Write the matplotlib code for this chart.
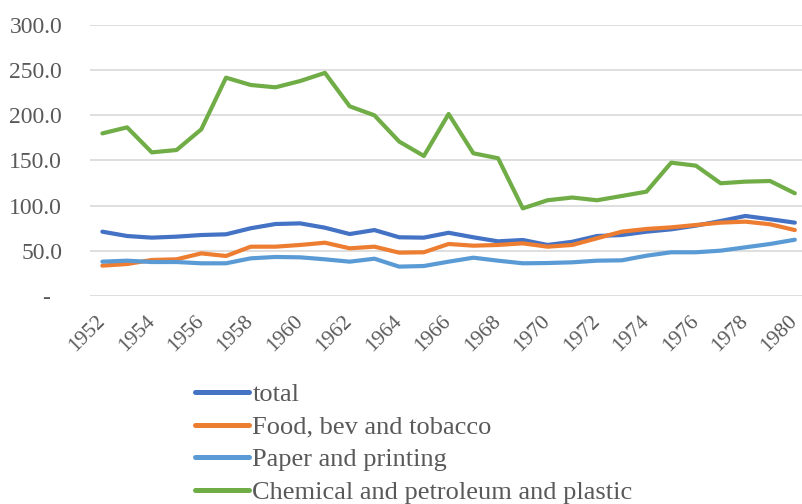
import matplotlib
matplotlib.use("Agg")
import matplotlib.pyplot as plt
from matplotlib.ticker import FuncFormatter

years = list(range(1952, 1981))

total = [71.2, 66.4, 64.6, 65.7, 67.5, 68.3, 75.0, 79.7, 80.4, 75.6, 68.6, 73.0, 65.0,
         64.6, 70.0, 65.0, 60.5, 62.0, 56.5, 60.0, 66.4, 67.5, 71.2, 73.8, 77.9, 83.0,
         88.6, 85.0, 81.2]
food = [33.6, 35.4, 39.9, 40.6, 47.2, 44.3, 54.6, 54.6, 56.5, 59.0, 52.8, 54.6, 48.0,
        48.4, 57.6, 55.7, 56.5, 58.3, 54.6, 56.5, 63.9, 71.2, 74.2, 76.0, 78.6, 81.2,
        82.3, 79.4, 73.0]
paper = [38.0, 39.1, 37.6, 37.6, 36.2, 36.2, 41.7, 43.2, 42.8, 40.6, 38.0, 41.3, 32.5,
         33.2, 38.0, 42.4, 39.1, 36.2, 36.5, 37.3, 39.1, 39.5, 44.6, 48.4, 48.4, 50.2,
         53.9, 57.6, 62.3]
chem = [180.0, 186.7, 159.0, 161.6, 184.5, 241.7, 233.6, 231.0, 238.0, 247.0, 210.0,
        200.0, 171.0, 155.0, 201.5, 158.0, 152.5, 97.0, 106.0, 109.0, 106.0, 110.7,
        115.5, 147.6, 144.3, 124.8, 126.6, 127.3, 113.7]

labels = ["total", "Food, bev and tobacco", "Paper and printing",
          "Chemical and petroleum and plastic"]
colors = ["#4472C4", "#ED7D31", "#5B9BD5", "#70AD47"]

plt.rcParams['font.family'] = ['Liberation Serif', 'DejaVu Serif']
txt = "#595959"

fig = plt.figure(figsize=(8.03, 5.04), dpi=100)
ax = fig.add_axes([90 / 803, 208 / 504, 713 / 803, 271 / 504])

for series, lab, c in zip([total, food, paper, chem], labels, colors):
    ax.plot(years, series, color=c, lw=3, label=lab, solid_capstyle='round',
            solid_joinstyle='round')

ax.set_xlim(1951.5, 1980.33)
ax.set_ylim(0, 300)
ax.set_yticks(range(0, 301, 50))
# excel accounting style: zero shown as a dash
ax.yaxis.set_major_formatter(FuncFormatter(lambda v, p: "-  " if v == 0 else "%.1f" % v))
ax.set_xticks(range(1952, 1981, 2))
ax.set_xticklabels([str(y) for y in range(1952, 1981, 2)], rotation=45, ha='right',
                   va='center', rotation_mode='anchor', fontsize=15.5)
ax.grid(axis='y', color="#D9D9D9", lw=1.2)
ax.set_axisbelow(True)
for s in ax.spines.values():
    s.set_visible(False)
ax.tick_params(length=0, colors=txt)
ax.tick_params(axis='y', pad=20, labelsize=17)
ax.tick_params(axis='x', pad=16)

leg = fig.legend(loc='upper left', bbox_to_anchor=(195 / 803, 1 - 383 / 504),
                 frameon=False, fontsize=19, borderpad=0, borderaxespad=0,
                 handlelength=2.05, handletextpad=0.12, labelspacing=0.34,
                 labelcolor=txt)
for h in leg.get_lines():
    h.set_linewidth(3.6)

fig.savefig("out.png", dpi=100)
